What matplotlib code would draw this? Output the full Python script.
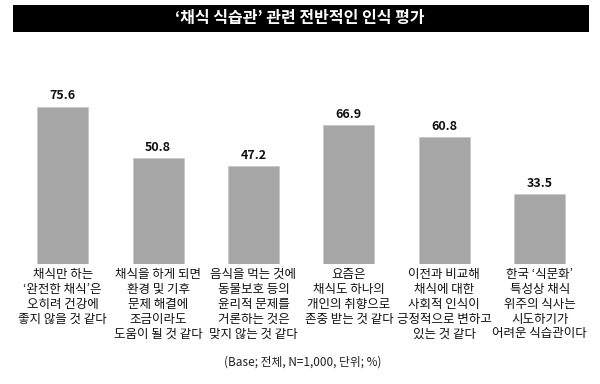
import matplotlib.pyplot as plt
from matplotlib.patches import Rectangle

plt.rcParams['font.family'] = ['Noto Sans CJK KR', 'DejaVu Sans']

# === 데이터 ===
categories = [
    "채식만 하는\n‘완전한 채식’은\n오히려 건강에\n좋지 않을 것 같다",
    "채식을 하게 되면\n환경 및 기후\n문제 해결에\n조금이라도\n도움이 될 것 같다",
    "음식을 먹는 것에\n동물보호 등의\n윤리적 문제를\n거론하는 것은\n맞지 않는 것 같다",
    "요즘은\n채식도 하나의\n개인의 취향으로\n존중 받는 것 같다",
    "이전과 비교해\n채식에 대한\n사회적 인식이\n긍정적으로 변하고\n있는 것 같다",
    "한국 ‘식문화’\n특성상 채식\n위주의 식사는\n시도하기가\n어려운 식습관이다",
]
values = [75.6, 50.8, 47.2, 66.9, 60.8, 33.5]
title = "‘채식 식습관’ 관련 전반적인 인식 평가"
footnote = "(Base; 전체, N=1,000, 단위; %)"

fig = plt.figure(figsize=(6, 3.84), dpi=100)
ax = fig.add_axes([0.025, 0.3125, 0.954, 0.53125])

x = range(len(values))
ax.bar(x, values, width=0.535, color='#a6a6a6', edgecolor='#c8c8c8', linewidth=0.6)
ax.set_xlim(-0.5, len(values) - 0.5)
ax.set_ylim(0, 98)
ax.axis('off')

# 값 라벨
for i, v in enumerate(values):
    ax.annotate(f'{v:.1f}', xy=(i, v), xytext=(0, 3), textcoords='offset points',
                ha='center', va='bottom', fontsize=9, fontweight='bold', color='#111111')

# 항목 라벨 (막대 아래)
for i, c in enumerate(categories):
    ax.annotate(c, xy=(i, 0), xytext=(0, -3), textcoords='offset points',
                ha='center', va='top', fontsize=9, linespacing=1.18,
                multialignment='center', color='#111111', fontweight='medium',
                annotation_clip=False)

# 제목 바
fig.patches.append(Rectangle((13 / 600, 1 - 32 / 384), 576 / 600, 27 / 384,
                             transform=fig.transFigure, facecolor='black', edgecolor='none'))
fig.text(0.5, 1 - 18.5 / 384, title, ha='center', va='center',
         fontsize=11.5, fontweight='bold', color='white')

fig.text(0.505, 1 - 362 / 384, footnote, ha='center', va='center', fontsize=8.5, color='#222222')

fig.savefig('out.png', dpi=100)
